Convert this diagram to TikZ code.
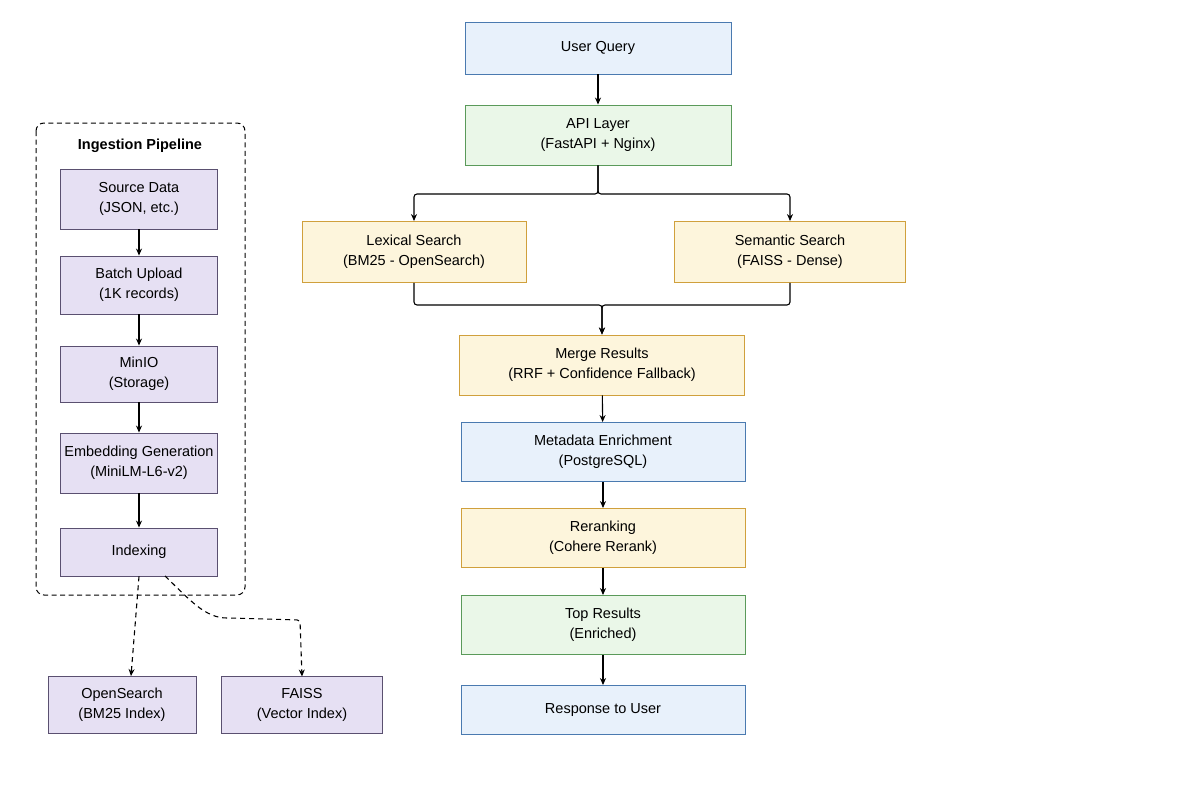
\documentclass[tikz,border=0pt]{standalone}
\usepackage{fontspec}
\setmainfont{Liberation Sans}
\usetikzlibrary{arrows.meta}
\definecolor{bF}{HTML}{E8F1FB}\definecolor{bD}{HTML}{4A7AB0}
\definecolor{gF}{HTML}{EAF7E8}\definecolor{gD}{HTML}{5A9A5A}
\definecolor{yF}{HTML}{FDF5DC}\definecolor{yD}{HTML}{D0A03C}
\definecolor{pF}{HTML}{E6E0F3}\definecolor{pD}{HTML}{5A5070}
\begin{document}
\begin{tikzpicture}[x=1pt,y=-1pt,
  box/.style={draw,line width=0.9pt,align=center,font=\fontsize{14.5}{20}\selectfont,inner sep=0pt},
  blue/.style={box,fill=bF,draw=bD},
  green/.style={box,fill=gF,draw=gD},
  yel/.style={box,fill=yF,draw=yD},
  pur/.style={box,fill=pF,draw=pD},
  arr/.style={-{Stealth[length=7pt,width=6pt]},line width=1.1pt,black},
  darr/.style={arr,dashed,dash pattern=on 5pt off 4pt}]
\useasboundingbox (0,0) rectangle (1200,800);
\fill[white] (0,0) rectangle (1200,800);
% main flow
\node[blue,minimum width=266pt,minimum height=52pt] (uq) at (598,48) {User Query};
\node[green,minimum width=266pt,minimum height=60pt] (api) at (598,135) {API Layer\\(FastAPI + Nginx)};
\node[yel,minimum width=224pt,minimum height=61pt] (lex) at (414,252) {Lexical Search\\(BM25 - OpenSearch)};
\node[yel,minimum width=231pt,minimum height=61pt] (sem) at (790,252) {Semantic Search\\(FAISS - Dense)};
\node[yel,minimum width=285pt,minimum height=60pt] (mer) at (602,365) {Merge Results\\(RRF + Confidence Fallback)};
\node[blue,minimum width=284pt,minimum height=59pt] (meta) at (603,452) {Metadata Enrichment\\(PostgreSQL)};
\node[yel,minimum width=284pt,minimum height=59pt] (rr) at (603,538) {Reranking\\(Cohere Rerank)};
\node[green,minimum width=284pt,minimum height=59pt] (top) at (603,625) {Top Results\\(Enriched)};
\node[blue,minimum width=284pt,minimum height=49pt] (resp) at (603,710) {Response to User};
\draw[arr] (uq) -- (api);
\coordinate (s1) at (598,194);
\draw[arr,rounded corners=3pt] (api.south) -- (s1) -| (lex.north);
\draw[arr,rounded corners=3pt] (api.south) -- (s1) -| (sem.north);
\coordinate (m1) at (602,305);
\draw[arr,rounded corners=3pt] (lex.south) |- (m1) -- (mer.north);
\draw[arr,rounded corners=3pt] (sem.south) |- (m1) -- (mer.north);
\draw[arr] (mer) -- (meta);
\draw[arr] (meta) -- (rr);
\draw[arr] (rr) -- (top);
\draw[arr] (top) -- (resp);
% ingestion
\draw[dashed,dash pattern=on 5pt off 3.5pt,line width=1pt,rounded corners=8pt] (36,123) rectangle (245,595);
\node[font=\bfseries\fontsize{14.5}{18}\selectfont] (title) at (140,146) {Ingestion Pipeline};
\node[pur,minimum width=157pt,minimum height=60pt] (src) at (139,199) {Source Data\\(JSON, etc.)};
\node[pur,minimum width=157pt,minimum height=58pt] (bat) at (139,285) {Batch Upload\\(1K records)};
\node[pur,minimum width=157pt,minimum height=56pt] (min) at (139,374) {MinIO\\(Storage)};
\node[pur,minimum width=157pt,minimum height=60pt] (emb) at (139,463) {Embedding Generation\\(MiniLM-L6-v2)};
\node[pur,minimum width=157pt,minimum height=48pt] (idx) at (139,552) {Indexing};
\node[pur,minimum width=148pt,minimum height=57pt] (os) at (122,705) {OpenSearch\\(BM25 Index)};
\node[pur,minimum width=161pt,minimum height=57pt] (fa) at (302,705) {FAISS\\(Vector Index)};
\draw[arr] (src) -- (bat);
\draw[arr] (bat) -- (min);
\draw[arr] (min) -- (emb);
\draw[arr] (emb) -- (idx);
\draw[darr] (idx.south) -- (os.north -| 131,0);
\coordinate (f1) at (230,618);
\draw[darr,rounded corners=3pt] (165,576) .. controls (190,600) and (205,618) .. (f1) -- (300,620) -- (302,676.5);
\end{tikzpicture}
\end{document}
